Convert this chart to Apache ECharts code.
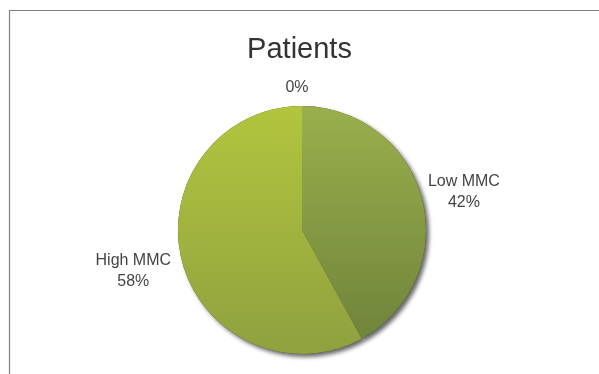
<!DOCTYPE html>
<html><head><meta charset="utf-8">
<script src="https://cdn.jsdelivr.net/npm/echarts@6/dist/echarts.min.js"></script>
<style>html,body{margin:0;padding:0;background:#fff}#c{width:599px;height:374px}</style>
</head><body><div id="c"></div>
<script>
var categories = ['Low MMC', 'High MMC', ''];
var values = [42, 58, 0];
var titleText = 'Patients';

var fills = [
  new echarts.graphic.LinearGradient(0, 0, 0, 1, [{offset: 0, color: '#9aaf4c'}, {offset: 1, color: '#70843b'}]),
  new echarts.graphic.LinearGradient(0, 0, 0, 1, [{offset: 0, color: '#b3c53d'}, {offset: 1, color: '#8fa13f'}]),
  '#c8d86a'
];
var chart = echarts.init(document.getElementById('c'));
var mainData = categories.map(function (c, i) { return {name: c, value: values[i], itemStyle: {color: fills[i]}}; });
var shadowData = categories.map(function (c, i) { return {name: c, value: values[i]}; });
chart.setOption({
  animation: false,
  title: {text: titleText, left: 'center', top: 30, textStyle: {fontFamily: 'Liberation Sans', fontSize: 29, fontWeight: 'normal', color: '#333'}},
  graphic: [{type: 'rect', shape: {x: 9.5, y: 10.5, width: 800, height: 600}, style: {fill: 'none', stroke: '#808080', lineWidth: 1.2}, silent: true, z: -10}],
  series: [
    {
      type: 'pie', radius: 124, center: [302, 230], silent: true, z: 1,
      startAngle: 90, clockwise: true,
      label: {show: false}, labelLine: {show: false},
      itemStyle: {color: '#3c4024', shadowBlur: 4, shadowOffsetX: 3, shadowOffsetY: 3, shadowColor: 'rgba(0,0,0,0.6)'},
      data: shadowData
    },
    {
      type: 'pie', radius: 124, center: [302, 230], z: 2,
      startAngle: 90, clockwise: true,
      itemStyle: {borderWidth: 0},
      label: {
        show: true, position: 'outside', fontFamily: 'Liberation Sans', fontSize: 16, color: '#444', lineHeight: 21,
        formatter: function (p) { return (p.name ? p.name + '\n' : '') + Math.round(p.percent) + '%'; }
      },
      labelLine: {show: false, length: 6, length2: 0},
      labelLayout: function (p) {
        var w = p.labelRect.width;
        if (p.dataIndex === 2) return {align: 'center', dy: -12};
        if (p.dataIndex === 0) return {align: 'center', dx: w / 2 - 5, dy: -6};
        return {align: 'center', dx: -w / 2, dy: 9};
      },
      data: mainData
    }
  ]
});
</script></body></html>
